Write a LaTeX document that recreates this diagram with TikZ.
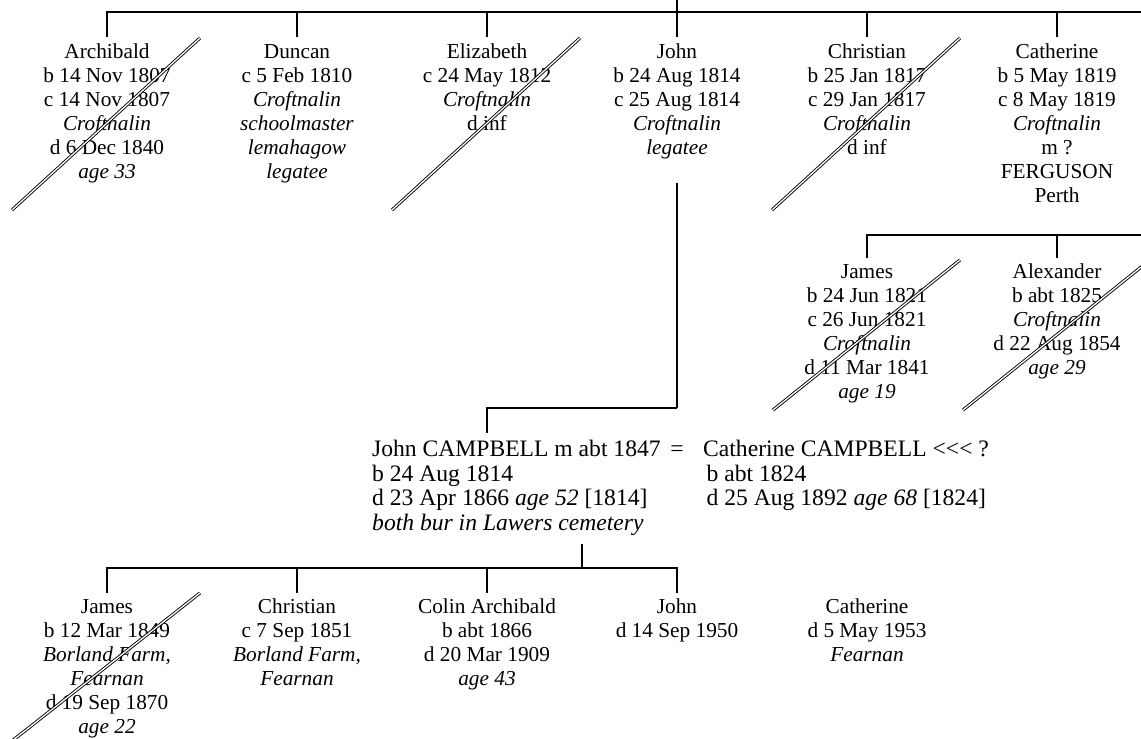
\documentclass[tikz,border=0pt]{standalone}
\usepackage{fontspec}
\setmainfont{Liberation Serif}
\usetikzlibrary{positioning}

\begin{document}
\begin{tikzpicture}[
  x=1pt, y=-1pt,
  font=\fontsize{21.3}{24}\selectfont,
  person/.style={align=center, anchor=north, inner sep=0pt},
  couple/.style={align=left, anchor=north west, inner sep=0pt, font=\fontsize{23.6}{24.7}\selectfont},
  link/.style={line width=2.4pt},
  thinlink/.style={line width=1.2pt},
  gone/.style={double, line width=0.9pt, double distance=1.3pt}
]
\useasboundingbox (0,0) rectangle (1141,739);

% first generation
\coordinate (top) at (677,0);
\coordinate (bar1) at (677,12);
\coordinate (bar1end) at (1141,12);

\node[person] (archibald) at (107,44) {Archibald\\b 14 Nov 1807\\c 14 Nov 1807\\\textit{Croftnalin}\\d 6 Dec 1840\\\textit{age 33}};
\node[person] (duncan) at (297,44) {Duncan\\c 5 Feb 1810\\\textit{Croftnalin}\\\textit{schoolmaster}\\\textit{lemahagow}\\\textit{legatee}};
\node[person] (elizabeth) at (487,44) {Elizabeth\\c 24 May 1812\\\textit{Croftnalin}\\d inf};
\node[person] (john) at (677,44) {John\\b 24 Aug 1814\\c 25 Aug 1814\\\textit{Croftnalin}\\\textit{legatee}};
\node[person] (christian) at (867,44) {Christian\\b 25 Jan 1817\\c 29 Jan 1817\\\textit{Croftnalin}\\d inf};
\node[person] (catherine) at (1057,44) {Catherine\\b 5 May 1819\\c 8 May 1819\\\textit{Croftnalin}\\m ?\\FERGUSON\\Perth};

\draw[link] (top) -- (bar1);
\draw[link] ([yshift=7pt]archibald.north) |- (bar1end);
\foreach \p in {duncan,elizabeth,john,christian,catherine}
  \draw[link] (\p.north |- bar1) -- ([yshift=7pt]\p.north);

\foreach \x in {107,487,867}
  \draw[gone] (\x-95,210) -- (\x+93,38);

% Catherine's children
\coordinate (bar2end) at (1141,235);

\node[person] (james) at (867,264) {James\\b 24 Jun 1821\\c 26 Jun 1821\\\textit{Croftnalin}\\d 11 Mar 1841\\\textit{age 19}};
\node[person] (alexander) at (1057,264) {Alexander\\b abt 1825\\\textit{Croftnalin}\\d 22 Aug 1854\\\textit{age 29}};

\draw[link] ([yshift=6pt]james.north) |- (bar2end);
\draw[link] (alexander.north |- bar2end) -- ([yshift=6pt]alexander.north);

\foreach \x in {867,1057}
  \draw[gone] (\x-94,410) -- (\x+93,260);

% John's marriage
\coordinate (jhub) at (677,408);
\coordinate (cpin) at (487,433);

\node[couple] (husband) at (372,440) {John CAMPBELL m abt 1847\\b 24 Aug 1814\\d 23 Apr 1866 \textit{age 52} [1814]\\\textit{both bur in Lawers cemetery}};
\node[couple, anchor=base] (eq) at (677,456) {=};
\node[couple] (wife) at (703,440) {Catherine CAMPBELL <\kern0pt<\kern0pt< ?\\\hspace*{3.5pt}b abt 1824\\\hspace*{3.5pt}d 25 Aug 1892 \textit{age 68} [1824]};

\draw[thinlink] ([yshift=-23pt]john.south) -- (jhub);
\draw[link] (jhub) -| (cpin);

% their children
\coordinate (kids) at (582,568);

\node[person] (kjames) at (107,599) {James\\b 12 Mar 1849\\\textit{Borland Farm,}\\\textit{Fearnan}\\d 19 Sep 1870\\\textit{age 22}};
\node[person] (kchristian) at (297,599) {Christian\\c 7 Sep 1851\\\textit{Borland Farm,}\\\textit{Fearnan}};
\node[person] (colin) at (487,599) {Colin Archibald\\b abt 1866\\d 20 Mar 1909\\\textit{age 43}};
\node[person] (kjohn) at (677,599) {John\\d 14 Sep 1950};
\node[person] (kcatherine) at (867,599) {Catherine\\d 5 May 1953\\\textit{Fearnan}};

\draw[link] (husband.south -| kids) ++(0,8) -- (kids);
\draw[link] ([yshift=6pt]kjames.north) |- (kids) -| ([yshift=6pt]kjohn.north);
\foreach \p in {kchristian,colin}
  \draw[link] (\p.north |- kids) -- ([yshift=6pt]\p.north);

\draw[gone] (12,741) -- (200,593);

\end{tikzpicture}
\end{document}
